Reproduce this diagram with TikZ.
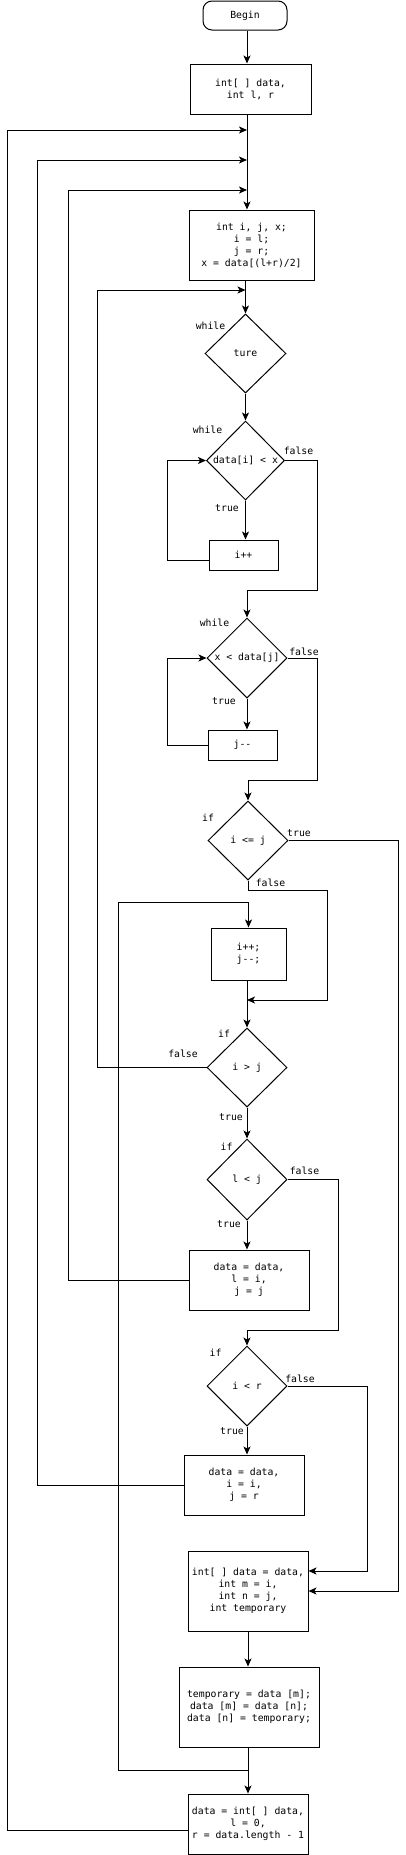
\documentclass[tikz,border=0pt]{standalone}
\usepackage{fontspec}
\setmonofont{DejaVu Sans Mono}
\usetikzlibrary{arrows.meta,shapes.geometric}
\begin{document}
\begin{tikzpicture}[x=1pt,y=-1pt,
  every node/.style={font=\ttfamily\fontsize{9.8}{12}\selectfont},
  arr/.style={line width=1pt,-{Stealth[length=8pt,width=7pt,inset=2pt]}},
  proc/.style={draw,line width=1pt,inner sep=0pt,align=center},
  dec/.style={draw,diamond,line width=1pt,inner sep=0pt,align=center},
  lbl/.style={inner sep=0pt}]
\useasboundingbox (0,0) rectangle (406,1855);
% nodes
\node[proc,rounded corners=9pt,minimum width=84pt,minimum height=29pt] (begin) at (245,15.5) {Begin};
\node[proc,minimum width=121pt,minimum height=50pt] (b1) at (250.5,89) {int[ ] data,\\int l, r};
\node[proc,minimum width=125pt,minimum height=70pt] (b2) at (251.5,245) {int i, j, x;\\i = l;\\j = r;\\x = data[(l+r)/2]};
\node[dec,minimum width=81pt,minimum height=79pt] (d1) at (245.5,353.5) {ture};
\node[dec,minimum width=78pt,minimum height=79pt] (d2) at (245.5,460.5) {data[i] < x};
\node[proc,minimum width=69pt,minimum height=30pt] (b3) at (243.5,555) {i++};
\node[dec,minimum width=80pt,minimum height=80pt] (d3) at (247,658) {x < data[j]};
\node[proc,minimum width=69pt,minimum height=30pt] (b4) at (242.5,745) {j{-}{-}};
\node[dec,minimum width=80pt,minimum height=79pt] (d4) at (248,840.5) {i <= j};
\node[proc,minimum width=75pt,minimum height=52pt] (b5) at (248.5,954) {i++;\\j{-}{-};};
\node[dec,minimum width=80pt,minimum height=79pt] (d5) at (247,1067.5) {i > j};
\node[dec,minimum width=80pt,minimum height=81pt] (d6) at (247,1179.5) {l < j};
\node[proc,minimum width=120pt,minimum height=60pt] (b6) at (249,1280) {data = data,\\l = i,\\j = j};
\node[dec,minimum width=80pt,minimum height=80pt] (d7) at (247,1386) {i < r};
\node[proc,minimum width=120pt,minimum height=60pt] (b7) at (244,1485) {data = data,\\i = i,\\j = r};
\node[proc,minimum width=120pt,minimum height=80pt] (b8) at (248,1591) {int[ ] data = data,\\int m = i,\\int n = j,\\int temporary};
\node[proc,minimum width=140pt,minimum height=80pt] (b9) at (249,1707) {temporary = data [m];\\data [m] = data [n];\\data [n] = temporary;};
\node[proc,minimum width=120pt,minimum height=60pt] (b10) at (248,1824) {data = int[ ] data,\\l = 0,\\r = data.length - 1};
% merge coordinates
\coordinate (ax) at (247,0);
\coordinate (m1) at (247,130);
\coordinate (m2) at (247,160);
\coordinate (m3) at (247,190);
\coordinate (m4) at (245.5,290);
\coordinate (m5) at (247,1000);
\coordinate (m6) at (248,1770);
% connectors
\draw[arr] (begin.south -| ax) -- (b1.north -| ax);
\draw[arr] (b1.south -| ax) -- (b2.north -| ax);
\draw[arr] ([yshift=-6pt]b10.west) -| (7,130) -- (m1);
\draw[arr] (b7.west) -| (37,160) -- (m2);
\draw[arr] (b6.west) -| (68,190) -- (m3);
\draw[arr] (d5.west) -| (97,290) -- (m4);
\draw[arr] (b2.south -| d1.north) -- (d1.north);
\draw[arr] (d1.south) -- (d2.north);
\draw[arr] (d2.south) -- (d2.south |- b3.north);
\draw[arr] ([yshift=-5pt]b3.west) -| (167,460.5) -- (d2.west);
\draw[arr] (d2.east) -| (317,590) -| (d3.north);
\draw[arr] (d3.south) -- (d3.south |- b4.north);
\draw[arr] (b4.west) -| (167,658) -- (d3.west);
\draw[arr] (d3.east) -| (317,780) -| (d4.north);
\draw[arr] (d4.east) -| (398,1591) -- (b8.east);
\draw[arr] (d4.south) |- (327,890) |- (m5);
\draw[arr] (m6) -| (118,902) -| (b5.north);
\draw[arr] (b5.south -| d5.north) -- (d5.north);
\draw[arr] (d5.south) -- (d6.north);
\draw[arr] (d6.south) -- (d6.south |- b6.north);
\draw[arr] (d6.east) -| (338,1330) -| (d7.north);
\draw[arr] (d7.south) -- (d7.south |- b7.north);
\draw[arr] (d7.east) -| (367,1571) -- (b8.east |- 0,1571);
\draw[arr] (b8.south) -- (b8.south |- b9.north);
\draw[arr] (b9.south -| m6) -- (b10.north -| m6);
% labels
\node[lbl] at (210.5,326) {while};
\node[lbl] at (207.5,430) {while};
\node[lbl] at (298.5,451) {false};
\node[lbl] at (227,508) {true};
\node[lbl] at (214.5,623) {while};
\node[lbl] at (304,652) {false};
\node[lbl] at (224,701) {true};
\node[lbl] at (208,818) {if};
\node[lbl] at (299,833) {true};
\node[lbl] at (270.5,883) {false};
\node[lbl] at (224,1034) {if};
\node[lbl] at (183,1054) {false};
\node[lbl] at (231,1117) {true};
\node[lbl] at (226.5,1147) {if};
\node[lbl] at (304.5,1171) {false};
\node[lbl] at (229,1224) {true};
\node[lbl] at (215.5,1353) {if};
\node[lbl] at (300,1379) {false};
\node[lbl] at (232,1431) {true};
\end{tikzpicture}
\end{document}
